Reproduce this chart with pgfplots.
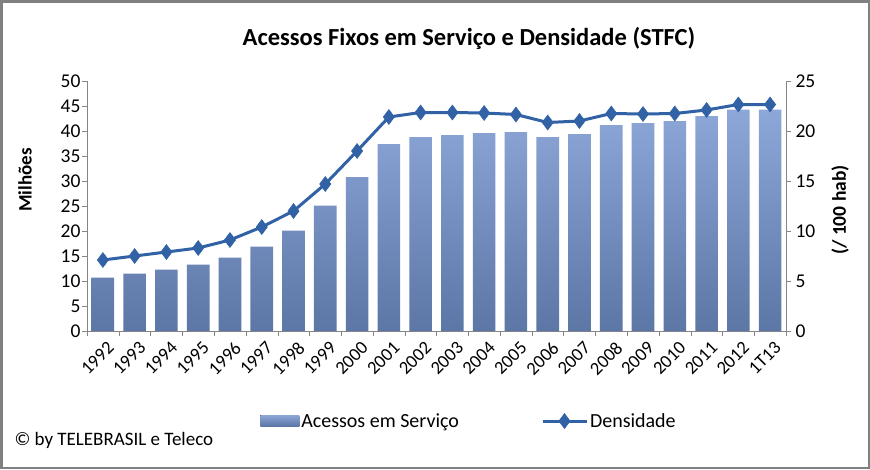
\documentclass[border=0pt]{standalone}
\usepackage{pgfplots}
\pgfplotsset{compat=1.18}
\usepackage{fontspec}
\setmainfont{Carlito}
\definecolor{bartop}{RGB}{140,167,216}
\definecolor{barbot}{RGB}{92,118,166}
\definecolor{linec}{RGB}{50,98,166}
\definecolor{axgray}{RGB}{134,134,134}
\pgfplotsset{mylineleg/.style={legend image code/.code={\draw[mark repeat=2,mark phase=2,##1] plot coordinates {(0pt,0pt) (22pt,0pt) (44pt,0pt)};}}}
\begin{document}
\begin{tikzpicture}[x=1pt,y=1pt]
\fill[white] (0,0) rectangle (870,-469);
\draw[color={rgb,255:red,128;green,128;blue,128}, line width=2.5pt] (1.25,-1.25) rectangle (868.75,-467.75);
\begin{axis}[
  at={(87pt,-331pt)}, anchor=south west,
  scale only axis, width=699pt, height=250pt,
  xmin=-0.5, xmax=21.5, ymin=0, ymax=50,
  axis x line*=bottom, axis y line*=left,
  axis line style={-,draw=axgray},
  xtick={0,...,21},
  xticklabels={1992,1993,1994,1995,1996,1997,1998,1999,2000,2001,2002,2003,2004,2005,2006,2007,2008,2009,2010,2011,2012,1T13},
  xticklabel style={xshift=3.5pt, yshift=-8pt, rotate=45, anchor=north east, inner sep=1pt, font=\fontsize{18.5}{18.5}\selectfont},
  ytick={0,5,...,50},
  yticklabel style={font=\fontsize{19.5}{19.5}\selectfont, xshift=-3pt},
  minor xtick={-0.5,0.5,...,21.5},
  minor ytick={0,5,...,50},
  major tick length=0pt, minor tick length=5pt,
  tick align=outside,
  tick style={draw=axgray},
  /pgf/number format/assume math mode=true,
  ybar, bar width=22.6pt,
]
\addplot[draw=none, top color=bartop, bottom color=barbot, shading=axis] coordinates {
(0,10.7) (1,11.5) (2,12.3) (3,13.3) (4,14.7) (5,16.9) (6,20.1) (7,25.1) (8,30.8) (9,37.4) (10,38.8)
(11,39.2) (12,39.6) (13,39.8) (14,38.8) (15,39.4) (16,41.2) (17,41.6) (18,42.0) (19,43.0) (20,44.3) (21,44.3)};
\end{axis}
\begin{axis}[
  at={(87pt,-331pt)}, anchor=south west,
  scale only axis, width=699pt, height=250pt,
  xmin=-0.5, xmax=21.5, ymin=0, ymax=25,
  axis x line=none, axis y line*=right,
  axis line style={-,draw=axgray},
  ytick={0,5,...,25},
  yticklabel style={font=\fontsize{19.5}{19.5}\selectfont, xshift=1pt},
  major tick length=5pt, tick align=outside,
  tick style={draw=axgray},
  /pgf/number format/assume math mode=true,
  legend columns=2,
  legend style={at={(0.5465,-0.36)}, anchor=center, draw=none, fill=none,
    font=\fontsize{20}{20}\selectfont, /tikz/every even column/.append style={column sep=80pt}},
]
\addlegendimage{legend image code/.code={\fill[draw=none, top color=bartop, bottom color=barbot] (-14pt,-5pt) rectangle (25pt,6pt);}}
\addlegendentry{Acessos em Serviço}
\addplot[color=linec, line width=3pt, mark=diamond*, mark size=7.5pt, mark options={fill=linec, line width=0.5pt}, mylineleg] coordinates {
(0,7.1) (1,7.5) (2,7.9) (3,8.3) (4,9.1) (5,10.4) (6,12.0) (7,14.7) (8,18.0) (9,21.4) (10,21.85)
(11,21.85) (12,21.8) (13,21.65) (14,20.85) (15,21.0) (16,21.75) (17,21.7) (18,21.75) (19,22.1) (20,22.65) (21,22.65)};
\addlegendentry{Densidade}
\end{axis}
\node[font=\bfseries\fontsize{24.5}{24.5}\selectfont] at (469,-38) {Acessos Fixos em Serviço e Densidade (STFC)};
\node[font=\bfseries\fontsize{19}{19}\selectfont, rotate=90] at (25,-180) {Milhões};
\node[font=\bfseries\fontsize{19.5}{19.5}\selectfont, rotate=90] at (840,-210) {(/ 100 hab)};
\node[font=\fontsize{19}{19}\selectfont, anchor=west] at (11,-440) {© by TELEBRASIL e Teleco};
\end{tikzpicture}
\end{document}
